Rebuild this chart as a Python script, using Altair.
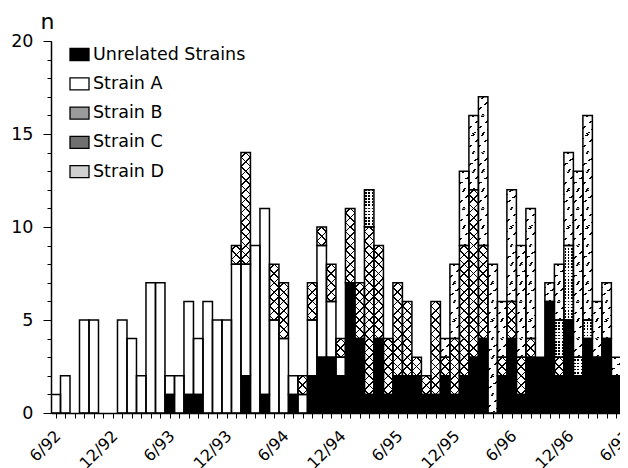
import json
import altair as alt
import pandas as pd

# ---- data (monthly isolates, 6/92 .. 6/97) ----
strains = ["Unrelated Strains", "Strain A", "Strain B", "Strain C", "Strain D"]
unrelated = [0, 0, 0, 0, 0, 0, 0, 0, 0, 0, 0, 0, 1, 0, 1, 1, 0, 0, 0, 0,
             2, 0, 1, 0, 0, 1, 0, 2, 3, 3, 2, 7, 4, 1, 4, 1, 2, 2, 2, 1,
             1, 2, 1, 2, 3, 4, 0, 2, 4, 1, 3, 3, 6, 2, 5, 2, 4, 3, 4, 2, 2]
strain_a = [1, 2, 0, 5, 5, 0, 0, 5, 4, 2, 7, 7, 1, 2, 5, 3, 6, 5, 5, 8,
            6, 9, 10, 5, 4, 1, 1, 3, 6, 3, 1, 0, 0, 0, 0, 0, 0, 0, 0, 0,
            0, 0, 0, 0, 0, 0, 0, 0, 0, 0, 0, 0, 0, 0, 0, 0, 0, 0, 0, 0, 0]
strain_b = [0, 0, 0, 0, 0, 0, 0, 0, 0, 0, 0, 0, 0, 0, 0, 0, 0, 0, 0, 1,
            6, 0, 0, 3, 3, 0, 1, 2, 1, 2, 1, 4, 3, 9, 5, 3, 5, 4, 1, 1,
            5, 1, 3, 7, 9, 5, 0, 1, 2, 2, 1, 0, 0, 1, 0, 0, 0, 0, 0, 0, 0]
strain_c = [0, 0, 0, 0, 0, 0, 0, 0, 0, 0, 0, 0, 0, 0, 0, 0, 0, 0, 0, 0,
            0, 0, 0, 0, 0, 0, 0, 0, 0, 0, 0, 0, 0, 2, 0, 0, 0, 0, 0, 0,
            0, 0, 0, 0, 0, 0, 0, 0, 0, 0, 0, 0, 0, 2, 4, 1, 1, 0, 0, 0, 0]
strain_d = [0, 0, 0, 0, 0, 0, 0, 0, 0, 0, 0, 0, 0, 0, 0, 0, 0, 0, 0, 0,
            0, 0, 0, 0, 0, 0, 0, 0, 0, 0, 0, 0, 0, 0, 0, 0, 0, 0, 0, 0,
            0, 1, 4, 4, 4, 8, 8, 3, 6, 6, 7, 0, 1, 3, 5, 10, 11, 3, 3, 1, 4]
tick_labels = ["6/92", "12/92", "6/93", "12/93", "6/94", "12/94",
               "6/95", "12/95", "6/96", "12/96", "6/97"]

series = [unrelated, strain_a, strain_b, strain_c, strain_d]

seg_rows, cell_rows = [], []
for i in range(len(unrelated)):
    base = 0
    for name, arr in zip(strains, series):
        c = arr[i]
        if c > 0:
            seg_rows.append(dict(xl=i - 0.5, xr=i + 0.5, y0=base, y1=base + c, strain=name))
            for k in range(c):
                cell_rows.append(dict(xl=i - 0.5, xr=i + 0.5, y0=base + k, y1=base + k + 1, strain=name))
            base += c
seg_df = pd.DataFrame(seg_rows)
cell_df = pd.DataFrame(cell_rows)

# ---- layout ----
W, H = 577, 372
XMIN, XMAX = -0.5, 60.25
cw = W / (XMAX - XMIN)   # px per month
ch = H / 20.0            # px per case
FONT = "DejaVu Sans"
FS = 17.5

# ---- pattern fills (gradients used as hatching) ----
CLEAR = "rgba(255,255,255,0)"

def stripes(bg, fg, n, frac):
    stops = [{"offset": 0, "color": bg}]
    hw = frac / (2 * n)
    for j in range(n):
        c = (j + 0.5) / n
        a, b = max(0.0, c - hw), min(1.0, c + hw)
        stops += [{"offset": a, "color": bg}, {"offset": a, "color": fg},
                  {"offset": b, "color": fg}, {"offset": b, "color": bg}]
    stops.append({"offset": 1, "color": bg})
    return stops

s = (cw + ch) / (cw * cw + ch * ch)
ax, ay = s * cw, s * ch   # normalised vector giving 45 degree isolines

def grad(x1, y1, x2, y2, stops):
    return {"gradient": "linear", "x1": x1, "y1": y1, "x2": x2, "y2": y2, "stops": stops}

slash_w = grad(0, 0, ax, ay, stripes("white", "black", 3, 0.17))
back_c = grad(0, 1, ax, 1 - ay, stripes(CLEAR, "black", 3, 0.17))
dslash_w = grad(0, 0, ax * 0.8, ay, stripes("white", "black", 3, 0.2))
dbreak = grad(0, 0, 0, 1, stripes(CLEAR, "white", 3, 0.45))
cvert = grad(0, 0, 1, 0, stripes("white", "black", 3, 0.5))
cbreak = grad(0, 0, 0, 1, stripes(CLEAR, "white", 6, 0.45))

pattern_layers = [
    ("Strain B", slash_w), ("Strain B", back_c),
    ("Strain C", cvert), ("Strain C", cbreak),
    ("Strain D", dslash_w), ("Strain D", dbreak),
]

xscale = alt.Scale(domain=[XMIN, XMAX], nice=False, zero=False)
yscale = alt.Scale(domain=[0, 20], nice=False)

label_expr = "datum.value % 6 == 0 ? " + json.dumps(tick_labels) + "[datum.value / 6] : ''"
xaxis = alt.Axis(values=list(range(61)), labelExpr=label_expr, title=None, grid=False,
                 tickSize=5, tickColor="black", tickWidth=1, domainColor="black", domainWidth=1.5,
                 labelFont=FONT, labelFontSize=16, labelColor="black", labelAngle=315,
                 labelAlign="right", labelBaseline="middle", labelPadding=15, labelOffset=2,
                 labelOverlap=False, labelFlush=False, labelBound=False, zindex=1)
yaxis = alt.Axis(values=[0, 5, 10, 15, 20], orient="left", grid=False, tickSize=8,
                 tickColor="black", tickWidth=1, domainColor="black", domainWidth=1.5,
                 labelFont=FONT, labelFontSize=FS, labelColor="black", labelPadding=10,
                 title="n", titleAngle=0, titleFont=FONT, titleFontSize=22,
                 titleFontWeight="normal", titleColor="black", titleAlign="left",
                 titleBaseline="alphabetic", titleX=-11, titleY=-13, zindex=1)
yaxis_minor = alt.Axis(values=list(range(21)), orient="left", grid=False, tickSize=4,
                       tickColor="black", tickWidth=1, labels=False, domain=False, title=None)

base = alt.Chart(seg_df).mark_rect(strokeWidth=0, clip=True).encode(
    x=alt.X("xl:Q", scale=xscale, axis=xaxis),
    x2="xr:Q",
    y=alt.Y("y0:Q", scale=yscale, axis=yaxis),
    y2="y1:Q",
    fill=alt.Fill("strain:N",
                  scale=alt.Scale(domain=strains,
                                  range=["black", "white", "#9a9a9a", "#707070", "#d0d0d0"]),
                  legend=alt.Legend(title=None, orient="none", legendX=18, legendY=3,
                                    labelFont=FONT, labelFontSize=FS, labelColor="black",
                                    labelLimit=400, labelOffset=3,
                                    symbolType="M-1,-0.63H1V0.63H-1Z", symbolSize=361,
                                    symbolStrokeColor="black", symbolStrokeWidth=1.3,
                                    rowPadding=9.3, padding=0)),
)

layers = [base]
for name, g in pattern_layers:
    layers.append(
        alt.Chart(cell_df).transform_filter(alt.datum.strain == name)
        .mark_rect(fill=g, strokeWidth=0, clip=True)
        .encode(x=alt.X("xl:Q", scale=xscale, axis=None), x2="xr:Q",
                y=alt.Y("y0:Q", scale=yscale, axis=None), y2="y1:Q")
    )

outline = alt.Chart(seg_df).mark_rect(fillOpacity=0, stroke="black", strokeWidth=1.5, clip=True).encode(
    x=alt.X("xl:Q", scale=xscale, axis=None),
    x2="xr:Q",
    y=alt.Y("y0:Q", scale=yscale, axis=yaxis_minor),
    y2="y1:Q",
)
layers.append(outline)

chart = alt.layer(*layers).resolve_axis(x="independent", y="independent").properties(
    width=W, height=H,
    autosize=alt.AutoSizeParams(type="none"),
    padding={"left": 43, "top": 33, "right": -8, "bottom": 55},
    background="white",
).configure_view(strokeWidth=0)

chart.save("out.html", embed_options={"renderer": "svg", "actions": False})
